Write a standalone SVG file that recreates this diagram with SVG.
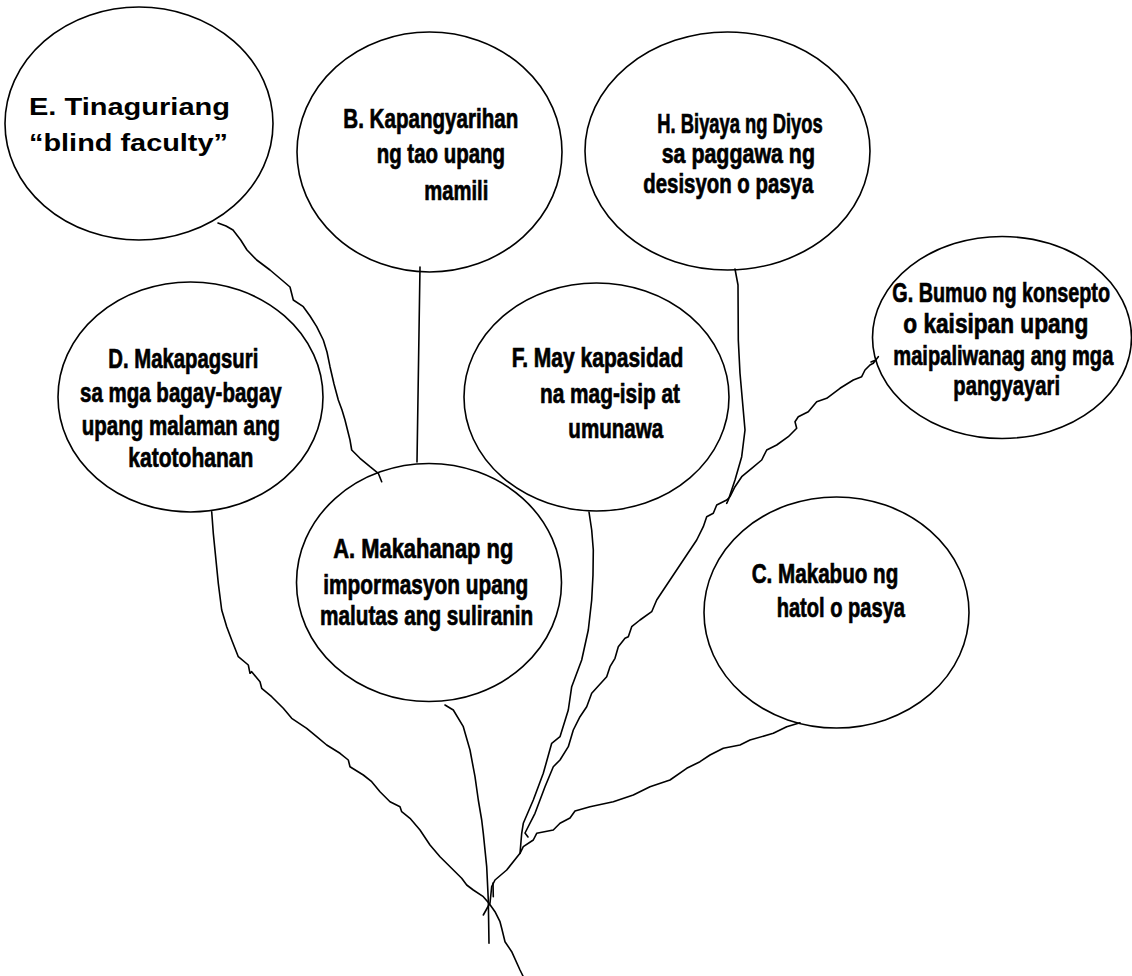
<svg xmlns="http://www.w3.org/2000/svg" width="1132" height="976" viewBox="0 0 1132 976">
<style>
.bub{fill:#fff;stroke:#000;stroke-width:1.6}
.t{font-family:"Liberation Sans",Arial,sans-serif;font-weight:bold;font-size:27.5px;fill:#000;stroke:#000;stroke-width:0.7}
.te{font-family:"Liberation Sans",Arial,sans-serif;font-weight:bold;font-size:24.5px;fill:#000}
.ln{fill:none;stroke:#000;stroke-width:1.6;stroke-linejoin:round;stroke-linecap:round}
</style>
<rect width="1132" height="976" fill="#fff"/>
<g id="node-E">
<ellipse class="bub" cx="139" cy="123.5" rx="134" ry="116.5"/>
<text class="te" x="29" y="115" textLength="201" lengthAdjust="spacingAndGlyphs">E. Tinaguriang</text>
<text class="te" x="29" y="151" textLength="199" lengthAdjust="spacingAndGlyphs">“blind faculty”</text>
</g>
<g id="node-B">
<ellipse class="bub" cx="429.5" cy="152" rx="132.5" ry="120"/>
<text class="t" x="343.3" y="127.7" textLength="175" lengthAdjust="spacingAndGlyphs">B. Kapangyarihan</text>
<text class="t" x="376.7" y="163.3" textLength="128.3" lengthAdjust="spacingAndGlyphs">ng tao upang</text>
<text class="t" x="424.3" y="200" textLength="64" lengthAdjust="spacingAndGlyphs">mamili</text>
</g>
<g id="node-H">
<ellipse class="bub" cx="727.5" cy="151" rx="142.5" ry="119"/>
<text class="t" x="657.3" y="133" textLength="165.4" lengthAdjust="spacingAndGlyphs">H. Biyaya ng Diyos</text>
<text class="t" x="661.7" y="163" textLength="153.3" lengthAdjust="spacingAndGlyphs">sa paggawa ng</text>
<text class="t" x="643.3" y="193" textLength="170" lengthAdjust="spacingAndGlyphs">desisyon o pasya</text>
</g>
<g id="node-G">
<ellipse class="bub" cx="1002" cy="337.5" rx="129.5" ry="101"/>
<text class="t" transform="translate(892.3,301.7) scale(0.72,1)" x="0" y="0" textLength="302.4" lengthAdjust="spacingAndGlyphs">G. Bumuo ng konsepto</text>
<text class="t" transform="translate(903.3,333.3) scale(0.72,1)" x="0" y="0" textLength="256.9" lengthAdjust="spacingAndGlyphs">o kaisipan upang</text>
<text class="t" transform="translate(893.3,365) scale(0.72,1)" x="0" y="0" textLength="305.6" lengthAdjust="spacingAndGlyphs">maipaliwanag ang mga</text>
<text class="t" transform="translate(953.3,395) scale(0.72,1)" x="0" y="0" textLength="148.2" lengthAdjust="spacingAndGlyphs">pangyayari</text>
</g>
<g id="node-D">
<ellipse class="bub" cx="190.5" cy="397" rx="132.5" ry="115"/>
<text class="t" x="108.3" y="368.3" textLength="150" lengthAdjust="spacingAndGlyphs">D. Makapagsuri</text>
<text class="t" x="80" y="401.7" textLength="201.7" lengthAdjust="spacingAndGlyphs">sa mga bagay-bagay</text>
<text class="t" x="81.7" y="435" textLength="198.3" lengthAdjust="spacingAndGlyphs">upang malaman ang</text>
<text class="t" x="128.3" y="466.7" textLength="125" lengthAdjust="spacingAndGlyphs">katotohanan</text>
</g>
<g id="node-F">
<ellipse class="bub" cx="596.5" cy="397" rx="132.5" ry="114"/>
<text class="t" x="511.7" y="367.3" textLength="171.6" lengthAdjust="spacingAndGlyphs">F. May kapasidad</text>
<text class="t" x="540" y="403.3" textLength="140" lengthAdjust="spacingAndGlyphs">na mag-isip at</text>
<text class="t" x="568.3" y="438.3" textLength="95" lengthAdjust="spacingAndGlyphs">umunawa</text>
</g>
<g id="node-A">
<ellipse class="bub" cx="429" cy="582.5" rx="132.5" ry="119"/>
<text class="t" x="333.3" y="558.3" textLength="180" lengthAdjust="spacingAndGlyphs">A. Makahanap ng</text>
<text class="t" x="323.3" y="594" textLength="205" lengthAdjust="spacingAndGlyphs">impormasyon upang</text>
<text class="t" x="320" y="624.5" textLength="213.3" lengthAdjust="spacingAndGlyphs">malutas ang suliranin</text>
</g>
<g id="node-C">
<ellipse class="bub" cx="836.5" cy="612.5" rx="132.5" ry="115.5"/>
<text class="t" x="751.7" y="582.7" textLength="146.6" lengthAdjust="spacingAndGlyphs">C. Makabuo ng</text>
<text class="t" x="776.7" y="617.3" textLength="128.3" lengthAdjust="spacingAndGlyphs">hatol o pasya</text>
</g>
<g id="connectors">
<path class="ln" d="M218,223 L226,226 233,230 240.7,240 247,250 256.7,260 270,270 283,281 290,287 293.3,300 303.3,306.7 310,316 316.7,326.7 323.3,340 327,352 330,366.7 334,384 338.3,400 342,410 345,420 350,440 351.7,450 360,458.3 370,466.7 378.3,473.3 381.7,481.7"/>
<path class="ln" d="M420,267 C419,330 418,400 417,462"/>
<path class="ln" d="M445,705 L453.3,710 463.3,726.7 470,750 475,776.7 478.3,800 481.7,820 483.3,833.3 486.7,866.7 488.3,900 489,943.3"/>
<path class="ln" d="M211.7,511.7 L213.3,533.3 218.3,583.3 221.7,610 226.7,626.7 231.7,640 238.3,656.7 248.3,665 250,673.3 251.7,671.7 260,681.7 261.7,688.3 271.7,696.7 283.3,708.3 291.7,718.3 306.7,728.3 316.7,736.7 326.7,745 340,753.3 348.3,760 350,766.7 363.3,775 371.7,781.7 380,791.7 390,801.7 400,806.7 401.7,811.7 410,818.3 420,830 430,845 440,856.7 461.7,878.3 466.7,885 473.3,890 483.3,896.7 489,903.3 495,911.7 500,921.7 501.7,928.3 505,941.7 511.7,951.7 520,970 523,976"/>
<path class="ln" d="M589,512 L591.7,530 593.3,550 593,575 591.7,600 588.3,630 581.7,660 571.7,686.7 568.3,710 560,736.7 551.7,743.3 543.3,773.3 533.3,800 523.3,823.3 521.7,833.3 520,853.3 506.7,870 495,880 491.7,886.7 490,903 483.3,915"/>
<path class="ln" d="M493,883 L493.3,896.7"/>
<path class="ln" d="M735,269 L738,285 738.3,340 740,373.3 745,430 741.7,456.7 735,480 728.3,500 726.7,503.3"/>
<path class="ln" d="M878.3,356.7 L873.3,363.3 870,365 865,370 861.7,376.7 853.3,380 840,388.3 826.7,398.3 816.7,401.7 808.3,411.7 798.3,416.7 795,421.7 796.7,428.3 788.3,436.7 776.7,445 766.7,450 761.7,460 751.7,468.3 741.7,476.7 735,486.7 730,496.7 726.7,500 716.7,505 713.3,513.3 706.7,516.7 703.3,526.7 696.7,540 688,553 680,565 670,580 662,592 656.7,600 651.7,611.7 640,620 631.7,626.7 628.3,636.7 625,638.3 618.3,646.7 615,658.3 610,666.7 606.7,676.7 591.7,693.3 586.7,706.7 580,716.7 573.3,730 568.3,746.7 560,760 553.3,766.7 545,786.7 540,800 535,813.3 525,833 528,837"/>
<path class="ln" d="M871,362 L876,360"/>
<path class="ln" d="M800,722.7 L786.7,726.7 780,730 773.3,733.3 750,740 740,745 723.3,748.3 710,755 700,761.7 686.7,768.3 670,780 650,786.7 633.3,795 613.3,801.7 590,806.7 575,811 570,818 560,823.3 553.3,830 536.7,833.3 533.3,840 523.3,846.7 520,853.3"/>
</g>
</svg>
